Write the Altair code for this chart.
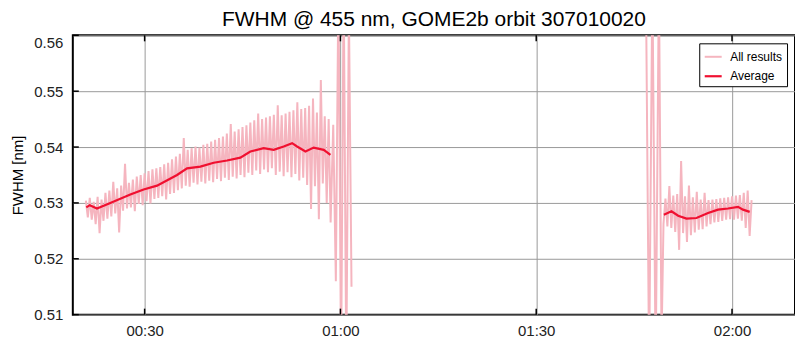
import altair as alt
import pandas as pd

# Time axis is minutes after 00:00 UTC.
# Individual scan fits ("All results"), first daylight segment
scan1_t = [
    21.0, 21.3, 21.6, 21.9, 22.2, 22.5, 22.8, 23.1, 23.4, 23.7,
    24.0, 24.3, 24.6, 24.9, 25.2, 25.5, 25.8, 26.1, 26.4, 26.7,
    27.0, 27.3, 27.6, 27.9, 28.2, 28.5, 28.8, 29.1, 29.4, 29.7,
    30.0, 30.3, 30.6, 30.9, 31.2, 31.5, 31.8, 32.1, 32.4, 32.7,
    33.0, 33.3, 33.6, 33.9, 34.2, 34.5, 34.8, 35.1, 35.4, 35.7,
    36.0, 36.3, 36.6, 36.9, 37.2, 37.5, 37.8, 38.1, 38.4, 38.7,
    39.0, 39.3, 39.6, 39.9, 40.2, 40.5, 40.8, 41.1, 41.4, 41.7,
    42.0, 42.3, 42.6, 42.9, 43.2, 43.5, 43.8, 44.1, 44.4, 44.7,
    45.0, 45.3, 45.6, 45.9, 46.2, 46.5, 46.8, 47.1, 47.4, 47.7,
    48.0, 48.3, 48.6, 48.9, 49.2, 49.5, 49.8, 50.1, 50.4, 50.7,
    51.0, 51.3, 51.6, 51.9, 52.2, 52.5, 52.8, 53.1, 53.4, 53.7,
    54.0, 54.3, 54.6, 54.9, 55.2, 55.5, 55.8, 56.1, 56.4, 56.7,
    57.0, 57.3, 57.6, 57.9, 58.2, 58.5,
    58.9, 59.3, 59.7, 60.1, 60.5, 60.9, 61.3, 61.7,
]
scan1_fwhm = [
    0.5304, 0.5274, 0.5309, 0.5270, 0.5302, 0.5262, 0.5311, 0.5246, 0.5306, 0.5268,
    0.5318, 0.5272, 0.5322, 0.5276, 0.5338, 0.5281, 0.5326, 0.5247, 0.5331, 0.5286,
    0.5370, 0.5290, 0.5336, 0.5292, 0.5342, 0.5285, 0.5347, 0.5298, 0.5350, 0.5296,
    0.5353, 0.5303, 0.5357, 0.5299, 0.5360, 0.5307, 0.5362, 0.5309, 0.5364, 0.5312,
    0.5369, 0.5306, 0.5372, 0.5316, 0.5378, 0.5318, 0.5383, 0.5323, 0.5388, 0.5326,
    0.5416, 0.5331, 0.5395, 0.5329, 0.5398, 0.5336, 0.5401, 0.5333, 0.5399, 0.5338,
    0.5404, 0.5335, 0.5406, 0.5340, 0.5410, 0.5337, 0.5413, 0.5343, 0.5416, 0.5339,
    0.5419, 0.5345, 0.5424, 0.5341, 0.5441, 0.5347, 0.5428, 0.5344, 0.5432, 0.5350,
    0.5436, 0.5346, 0.5439, 0.5354, 0.5444, 0.5350, 0.5448, 0.5358, 0.5460, 0.5352,
    0.5450, 0.5360, 0.5453, 0.5355, 0.5455, 0.5362, 0.5458, 0.5350, 0.5475, 0.5356,
    0.5457, 0.5348, 0.5460, 0.5355, 0.5463, 0.5346, 0.5466, 0.5352, 0.5480, 0.5340,
    0.5468, 0.5345, 0.5470, 0.5332, 0.5474, 0.5289, 0.5487, 0.5330, 0.5462, 0.5271,
    0.5520, 0.5335, 0.5455, 0.5300, 0.5450, 0.5265,
    0.5440, 0.5160, 0.5700, 0.5000, 0.5700, 0.5000, 0.5650, 0.5150,
]

# Individual scan fits, second daylight segment
scan2_t = [
    106.8, 107.3, 107.8, 108.3, 108.8, 109.2,
    109.5, 109.8, 110.1, 110.4, 110.7, 111.0, 111.3, 111.6, 111.9, 112.2,
    112.5, 112.8, 113.1, 113.4, 113.7, 114.0, 114.3, 114.6, 114.9, 115.2,
    115.5, 115.8, 116.1, 116.4, 116.7, 117.0, 117.3, 117.6, 117.9, 118.2,
    118.5, 118.8, 119.1, 119.4, 119.7, 120.0, 120.3, 120.6, 120.9, 121.2,
    121.5, 121.8, 122.1, 122.4, 122.7, 123.0,
]
scan2_fwhm = [
    0.5700, 0.5000, 0.5700, 0.5000, 0.5700, 0.5050,
    0.5262, 0.5308, 0.5258, 0.5330, 0.5255, 0.5313, 0.5248, 0.5316, 0.5216, 0.5375,
    0.5246, 0.5312, 0.5230, 0.5331, 0.5242, 0.5310, 0.5247, 0.5320, 0.5252, 0.5306,
    0.5253, 0.5318, 0.5258, 0.5305, 0.5262, 0.5306, 0.5265, 0.5307, 0.5266, 0.5308,
    0.5268, 0.5309, 0.5270, 0.5310, 0.5271, 0.5312, 0.5270, 0.5313, 0.5272, 0.5314,
    0.5268, 0.5318, 0.5255, 0.5322, 0.5241, 0.5305,
]

# Running average of the fits
avg1_t = [21.06, 21.60, 22.70, 24.74, 27.81, 29.85, 31.90, 34.97, 36.50, 38.54,
          40.58, 42.63, 44.67, 46.20, 48.24, 49.78, 51.31, 52.60, 53.36, 54.64,
          55.91, 57.44, 58.47]
avg1_fwhm = [0.5292, 0.5296, 0.5290, 0.5300, 0.5315, 0.5324, 0.5331, 0.5350, 0.5362, 0.5365,
             0.5372, 0.5376, 0.5381, 0.5392, 0.5398, 0.5395, 0.5401, 0.5407, 0.5401, 0.5392,
             0.5399, 0.5395, 0.5386]
avg2_t = [109.56, 110.72, 111.75, 113.02, 114.55, 116.33, 117.86, 119.39, 120.92, 121.68, 122.71]
avg2_fwhm = [0.5279, 0.5285, 0.5277, 0.5272, 0.5273, 0.5282, 0.5288, 0.5290, 0.5293, 0.5288, 0.5284]

series_names = ["All results", "Average"]
series_colors = ["#f5b5bf", "#f01030"]
series_widths = [2.0, 2.2]

y_ticks = [0.51, 0.52, 0.53, 0.54, 0.55, 0.56]
x_ticks = [30, 60, 90, 120]

FONT = "Liberation Sans"
W, H = 724, 280

scans = pd.DataFrame({
    "t": scan1_t + scan2_t,
    "fwhm": scan1_fwhm + scan2_fwhm,
    "seg": ["a"] * len(scan1_t) + ["b"] * len(scan2_t),
    "series": "All results",
})
average = pd.DataFrame({
    "t": avg1_t + avg2_t,
    "fwhm": avg1_fwhm + avg2_fwhm,
    "seg": ["a"] * len(avg1_t) + ["b"] * len(avg2_t),
    "series": "Average",
})

x_enc = alt.X(
    "t:Q",
    scale=alt.Scale(domain=[19.0, 129.65], nice=False, zero=False),
    axis=alt.Axis(
        values=x_ticks,
        labelExpr="format(floor(datum.value / 60), '02d') + ':' + format(datum.value % 60, '02d')",
        title=None,
        labelPadding=9,
    ),
)
y_enc = alt.Y(
    "fwhm:Q",
    scale=alt.Scale(domain=[0.51, 0.56], nice=False, zero=False),
    axis=alt.Axis(
        values=y_ticks,
        format=".2f",
        title="FWHM [nm]",
        labelPadding=10,
        titlePadding=8,
        labelBaseline={"condition": {"test": "datum.value > 0.555", "value": "top"},
                       "value": "middle"},
    ),
)
color_enc = alt.Color(
    "series:N",
    scale=alt.Scale(domain=series_names, range=series_colors),
    legend=alt.Legend(
        title=None, orient="none", legendX=628, legendY=8, direction="vertical",
        symbolType="stroke", symbolSize=289, labelFont=FONT, labelFontSize=12,
        labelColor="black", padding=4, rowPadding=3, labelOffset=7,
        strokeColor="black", fillColor="white", cornerRadius=0,
    ),
)
width_enc = alt.StrokeWidth(
    "series:N",
    scale=alt.Scale(domain=series_names, range=series_widths),
)

scan_lines = alt.Chart(scans).mark_line(clip=True).encode(
    x=x_enc, y=y_enc, color=color_enc, strokeWidth=width_enc, detail="seg:N"
)
avg_lines = alt.Chart(average).mark_line(clip=True).encode(
    x=x_enc, y=y_enc, color=color_enc, strokeWidth=width_enc, detail="seg:N"
)

# Inward-pointing tick marks on the frame
ytick_df = pd.DataFrame({"fwhm": y_ticks})
xtick_df = pd.DataFrame({"t": x_ticks})
left_ticks = alt.Chart(ytick_df).mark_rule(color="black", strokeWidth=1.5).encode(
    y=y_enc, x=alt.value(0), x2=alt.value(6)
)
bottom_ticks = alt.Chart(xtick_df).mark_rule(color="black", strokeWidth=1.5).encode(
    x=x_enc, y=alt.value(H), y2=alt.value(H - 6)
)
top_ticks = alt.Chart(xtick_df).mark_rule(color="black", strokeWidth=1.5).encode(
    x=x_enc, y=alt.value(0), y2=alt.value(6)
)

chart = alt.layer(scan_lines, avg_lines, left_ticks, bottom_ticks, top_ticks).properties(
    width=W,
    height=H,
    padding={"left": 73, "top": 35, "right": 0, "bottom": 28},
    autosize="none",
    title=alt.TitleParams(
        text="FWHM @ 455 nm, GOME2b orbit 307010020",
        font=FONT, fontSize=21, fontWeight="normal", color="black",
        anchor="middle", offset=9, baseline="alphabetic", dy=21,
    ),
).configure_view(
    stroke="black", strokeWidth=2
).configure_axis(
    labelFont=FONT, labelFontSize=15, labelColor="#222",
    titleFont=FONT, titleFontSize=15, titleFontWeight="normal", titleColor="black",
    gridColor="#9a9a9a", gridWidth=1, gridOpacity=1,
    tickSize=0, domain=False,
)

chart.save("out.html", embed_options={"renderer": "svg", "actions": False})
